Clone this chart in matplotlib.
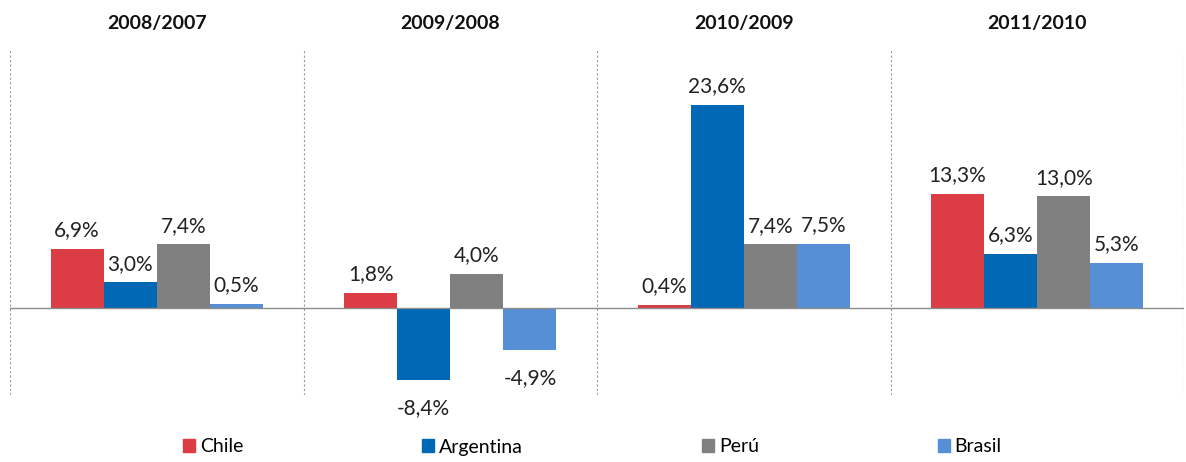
import numpy as np
import matplotlib.pyplot as plt
from matplotlib.patches import Patch

plt.rcParams['font.family'] = ['Lato', 'DejaVu Sans']
fs = 15

periods = ['2008/2007', '2009/2008', '2010/2009', '2011/2010']
countries = ['Chile', 'Argentina', 'Perú', 'Brasil']
chile = [6.9, 1.8, 0.4, 13.3]
argentina = [3.0, -8.4, 23.6, 6.3]
peru = [7.4, 4.0, 7.4, 13.0]
brasil = [0.5, -4.9, 7.5, 5.3]
series = [chile, argentina, peru, brasil]
colors = ['#DC3C44', '#0068B5', '#808080', '#568FD6']

fig = plt.figure(figsize=(11.86, 4.62), dpi=100)
ax = fig.add_axes([10/1186, 1-395/462, 1174/1186, 345/462])

x = np.arange(len(periods))
w = 0.181
for i, (vals, c) in enumerate(zip(series, colors)):
    xs = x + (i-1.5)*w
    ax.bar(xs, vals, width=w, color=c, zorder=2)
    for xi, v in zip(xs, vals):
        lab = ('%.1f%%' % v).replace('.', ',')
        if v >= 0:
            ax.annotate(lab, (xi, v), xytext=(0, 9), textcoords='offset points',
                        ha='center', va='baseline', fontsize=fs, color='#222222')
        else:
            ax.annotate(lab, (xi, v), xytext=(0, -12.5), textcoords='offset points',
                        ha='center', va='top', fontsize=fs, color='#222222')

ax.set_xlim(-0.5, 3.5)
ax.set_ylim(-10.1, 30)
ax.axhline(0, color='#8c8c8c', lw=1, zorder=3)
for b in np.arange(-0.5, 4, 1):
    ax.axvline(b, color='#9a9a9a', lw=0.8, ls=(0, (2, 2)), zorder=1)
for xi, p in zip(x, periods):
    fig.text((10 + (xi+0.5)*293.5)/1186, 1-23/462, p, ha='center', va='center',
             fontsize=14, fontweight='bold', color='#111111')

ax.axis('off')

handles = [Patch(color=c, label=n) for c, n in zip(colors, countries)]
fig.legend(handles=handles, loc='center left', bbox_to_anchor=(183/1186, 1-447/462),
           ncol=4, frameon=False, fontsize=14, handlelength=0.62, handleheight=0.62,
           handletextpad=0.25, columnspacing=9.2, borderpad=0, borderaxespad=0)

plt.savefig('out.png', dpi=100)
